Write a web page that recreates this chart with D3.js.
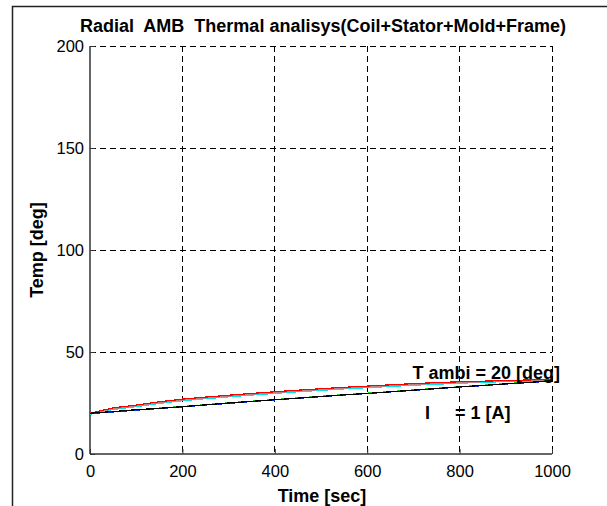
<!DOCTYPE html>
<html>
<head>
<meta charset="utf-8">
<script src="https://cdn.jsdelivr.net/npm/d3@7"></script>
<style>
  html, body { margin: 0; padding: 0; background: #fff; }
  svg { display: block; }
  text { font-family: Arial, "Liberation Sans", sans-serif; fill: #000; }
</style>
</head>
<body>
<svg id="chart" width="607" height="506"></svg>
<script>
// Time samples (sec)
const timeSec = [0, 50, 100, 150, 200, 250, 300, 350, 400, 450, 500, 550, 600, 650, 700, 750, 800, 850, 900, 950, 1000];

// Coil / stator temperatures (upper group)
const tempRed  = [20.0, 22.6, 24.0, 25.6, 26.9, 27.9, 28.8, 29.7, 30.5, 31.3, 32.0, 32.7, 33.3, 33.9, 34.5, 35.0, 35.4, 35.7, 36.0, 36.3, 36.6];
const tempGray = [19.7, 22.2, 23.6, 25.2, 26.5, 27.5, 28.4, 29.3, 30.1, 30.9, 31.6, 32.3, 32.9, 33.5, 34.1, 34.6, 35.0, 35.4, 35.7, 36.0, 36.3];
const tempCyan = [19.5, 21.8, 23.2, 24.8, 26.1, 27.1, 28.0, 28.9, 29.7, 30.5, 31.2, 31.9, 32.5, 33.1, 33.7, 34.2, 34.7, 35.1, 35.5, 35.8, 36.1];

// Mold / frame temperatures (lower group)
const tempBlack = [20.0, 20.8, 21.7, 22.4, 23.2, 24.1, 25.0, 25.8, 26.6, 27.4, 28.2, 29.0, 29.7, 30.5, 31.3, 32.1, 32.9, 33.6, 34.4, 35.1, 35.9];
const tempBlue  = [19.8, 20.6, 21.5, 22.3, 23.1, 24.0, 24.8, 25.7, 26.5, 27.3, 28.1, 28.9, 29.6, 30.4, 31.2, 32.0, 32.8, 33.5, 34.3, 35.0, 35.8];
const tempGreen = [19.9, 20.7, 21.6, 22.5, 23.3, 24.2, 25.1, 25.9, 26.7, 27.5, 28.3, 29.1, 29.8, 30.6, 31.4, 32.2, 33.0, 33.7, 34.5, 35.2, 36.0];

// Axis ticks
const xTicks = [0, 200, 400, 600, 800, 1000];
const yTicks = [0, 50, 100, 150, 200];

const svg = d3.select("#chart");
const plot = { left: 90, right: 552, top: 46, bottom: 454 };

const x = d3.scaleLinear().domain([0, 1000]).range([plot.left, plot.right]);
const y = d3.scaleLinear().domain([0, 200]).range([plot.bottom, plot.top]);

// Figure frame (left and top edges)
svg.append("path")
  .attr("d", "M12.5,506 V6.5 H607")
  .attr("fill", "none")
  .attr("stroke", "#222")
  .attr("stroke-width", 1.5);

// Dashed grid
const grid = svg.append("g").attr("stroke", "#000").attr("stroke-width", 1)
  .attr("stroke-dasharray", "6,4").attr("shape-rendering", "crispEdges");
grid.selectAll("line.gx").data(xTicks.filter(d => d > 0)).join("line")
  .attr("class", "gx")
  .attr("x1", d => x(d)).attr("x2", d => x(d))
  .attr("y1", y(200)).attr("y2", y(0));
grid.selectAll("line.gy").data(yTicks.filter(d => d > 0)).join("line")
  .attr("class", "gy")
  .attr("x1", x(0)).attr("x2", x(1000))
  .attr("y1", d => y(d)).attr("y2", d => y(d));

// Axes
const xAxis = d3.axisBottom(x).tickValues(xTicks).tickSize(-5).tickPadding(11).tickFormat(d3.format("d"));
const yAxis = d3.axisLeft(y).tickValues(yTicks).tickSize(-5).tickPadding(6).tickFormat(d3.format("d"));

const gx = svg.append("g").attr("transform", `translate(0,${plot.bottom})`).call(xAxis);
const gy = svg.append("g").attr("transform", `translate(${plot.left},0)`).call(yAxis);
[gx, gy].forEach(g => {
  g.select(".domain").attr("stroke", "#333").attr("stroke-width", 1.5);
  g.selectAll(".tick line").attr("stroke", "#333");
  g.selectAll(".tick text").style("font-size", "16.5px").attr("fill", "#000")
    .style("font-family", "Arial, 'Liberation Sans', sans-serif");
});
gx.select(".domain").attr("d", `M${x(0)},0H${x(1000)}`);
gy.select(".domain").attr("d", `M0,${y(0)}V${y(200)}`);

// Temperature curves
const series = [
  { values: tempCyan,  color: "#00e5ee" },
  { values: tempGray,  color: "#c08080" },
  { values: tempRed,   color: "#ff0000" },
  { values: tempGreen, color: "#00dd00" },
  { values: tempBlue,  color: "#0033cc" },
  { values: tempBlack, color: "#000000" }
];
const line = d3.line().x((d, i) => x(timeSec[i])).y(d => y(d));
svg.append("g").selectAll("path").data(series).join("path")
  .attr("d", s => line(s.values))
  .attr("fill", "none")
  .attr("stroke", s => s.color)
  .attr("stroke-width", 1.2)
  .attr("shape-rendering", "crispEdges");

// Title and axis labels
svg.append("text")
  .attr("x", (plot.left + plot.right) / 2 + 2).attr("y", 32)
  .attr("text-anchor", "middle")
  .style("font-size", "18px").style("font-weight", "bold")
  .style("white-space", "pre")
  .text("Radial  AMB  Thermal analisys(Coil+Stator+Mold+Frame)");

svg.append("text")
  .attr("x", (plot.left + plot.right) / 2 + 1).attr("y", 502)
  .attr("text-anchor", "middle")
  .style("font-size", "18px").style("font-weight", "bold")
  .text("Time [sec]");

svg.append("text")
  .attr("transform", `translate(43,${(plot.top + plot.bottom) / 2}) rotate(-90)`)
  .attr("text-anchor", "middle")
  .style("font-size", "18px").style("font-weight", "bold")
  .text("Temp [deg]");

// Annotations
svg.append("text")
  .attr("x", x(698)).attr("y", y(37.5) + 1)
  .style("font-size", "18px").style("font-weight", "bold")
  .text("T ambi = 20 [deg]");
svg.append("text")
  .attr("x", x(725)).attr("y", y(17.5) + 1)
  .style("font-size", "18px").style("font-weight", "bold")
  .style("white-space", "pre")
  .text("I     = 1 [A]");
</script>
</body>
</html>
